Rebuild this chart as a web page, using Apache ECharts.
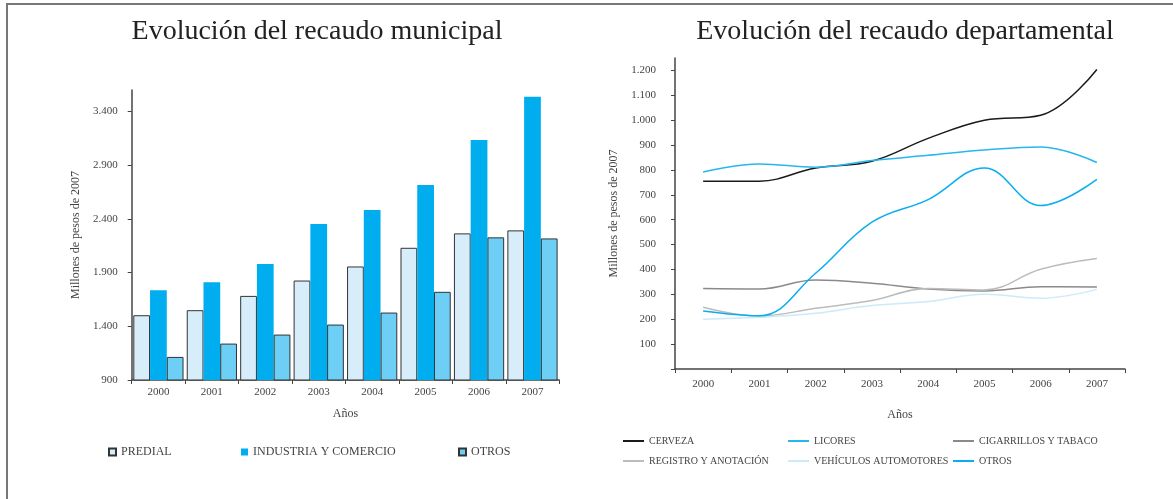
<!DOCTYPE html>
<html><head><meta charset="utf-8">
<script src="https://cdn.jsdelivr.net/npm/echarts@6/dist/echarts.min.js"></script>
<style>
html,body{margin:0;padding:0;background:#fff;}
#wrap{position:relative;width:1173px;height:499px;overflow:hidden;}
#frame{position:absolute;left:6px;top:3px;width:1167px;height:496px;border-top:2px solid #777;border-left:2px solid #777;box-sizing:border-box;}
#left{position:absolute;left:0;top:0;width:600px;height:499px;}
#right{position:absolute;left:600px;top:0;width:573px;height:499px;}
</style></head>
<body><div id="wrap"><div id="frame"></div><div id="left"></div><div id="right"></div></div>
<script>
// ---- data ----
const years = ['2000','2001','2002','2003','2004','2005','2006','2007'];
// Municipal (millones de pesos de 2007)
const predial   = [1503,1550,1683,1826,1957,2131,2265,2293];
const industria = [1736,1811,1979,2352,2482,2716,3135,3536];
const otrosMun  = [1115,1239,1323,1416,1528,1721,2228,2218];
const munTicks  = [900,1400,1900,2400,2900,3400];
// Departamental
const cerveza    = [755,755,808,835,927,1000,1020,1204];
const licores    = [792,824,811,838,859,880,892,830];
const cigarrillos= [324,322,358,345,322,314,331,330];
const registro   = [248,213,244,275,324,318,401,444];
const vehiculos  = [200,208,224,255,271,300,284,320];
const otrosDep   = [233,214,385,590,681,808,657,762];
const depTicks   = [0,100,200,300,400,500,600,700,800,900,1000,1100,1200];
const depLabels  = [100,200,300,400,500,600,700,800,900,1000,1100,1200];

const fmt = v => String(v).replace(/\B(?=(\d{3})+(?!\d))/g, '.');
const FONT = '"Liberation Serif","DejaVu Serif",serif';
const axisCol = '#444';

// ---- left chart ----
const cl = echarts.init(document.getElementById('left'));
const legBox = (name,left) => ({left,top:441,itemWidth:7,itemHeight:7,data:[name],icon:'rect',
   textStyle:{fontFamily:FONT,fontSize:12,color:'#444'}});
cl.setOption({
  animation:false,
  title:{text:'Evolución del recaudo municipal',left:312,top:13,textAlign:'center',
    textStyle:{fontFamily:FONT,fontSize:28,fontWeight:'normal',color:'#222'}},
  legend:[
    legBox('PREDIAL',103),
    legBox('INDUSTRIA Y COMERCIO',236),
    legBox('OTROS',453)
  ],
  grid:{left:131.7,top:90,width:427.5,height:290},
  xAxis:{type:'category',data:years,
    name:'Años',nameLocation:'middle',nameGap:28,
    nameTextStyle:{fontFamily:FONT,fontSize:12,color:'#444'},
    axisLine:{lineStyle:{color:axisCol,width:1.5}},
    axisTick:{show:true,length:4,lineStyle:{color:axisCol}},
    axisLabel:{fontFamily:FONT,fontSize:11,color:'#444',margin:7}},
  yAxis:{type:'value',min:900,max:3600,interval:500,
    name:'Millones de pesos de 2007',nameLocation:'middle',nameGap:49,nameRotate:90,
    nameTextStyle:{fontFamily:FONT,fontSize:12,color:'#444'},
    splitLine:{show:false},
    axisLine:{show:true,lineStyle:{color:axisCol,width:1.5}},
    axisTick:{show:true,length:4,lineStyle:{color:axisCol},customValues:munTicks},
    axisLabel:{fontFamily:FONT,fontSize:11,color:'#444',margin:14,formatter:fmt,customValues:munTicks}},
  series:[
    {name:'PREDIAL',type:'bar',data:predial,barGap:'0%',barCategoryGap:'6%',
      itemStyle:{color:'#d7eefa',borderColor:'#333',borderWidth:1}},
    {name:'INDUSTRIA Y COMERCIO',type:'bar',data:industria,
      itemStyle:{color:'#00aeef'}},
    {name:'OTROS',type:'bar',data:otrosMun,
      itemStyle:{color:'#6dcff6',borderColor:'#333',borderWidth:1}}
  ]
});

// ---- right chart ----
const cr = echarts.init(document.getElementById('right'));
const lineS = (name,data,color,w) => ({name,type:'line',data,smooth:0.4,symbol:'none',
  lineStyle:{color,width:w||1.5},itemStyle:{color}});
const legItem = (name,left,top) => ({left,top,itemWidth:21,itemHeight:10,data:[name],
  icon:'path://M0,4 L21,4 L21,6 L0,6 Z',
  textStyle:{fontFamily:FONT,fontSize:10,color:'#444'}});
cr.setOption({
  animation:false,
  title:{text:'Evolución del recaudo departamental',left:300,top:13,textAlign:'center',
    textStyle:{fontFamily:FONT,fontSize:28,fontWeight:'normal',color:'#222'}},
  legend:[
    legItem('CERVEZA',18,431),
    legItem('LICORES',183,431),
    legItem('CIGARRILLOS Y TABACO',348,431),
    legItem('REGISTRO Y ANOTACIÓN',18,451),
    legItem('VEHÍCULOS AUTOMOTORES',183,451),
    legItem('OTROS',348,451)
  ],
  grid:{left:72,top:58,width:453,height:311},
  xAxis:{type:'category',data:years,boundaryGap:true,
    name:'Años',nameLocation:'middle',nameGap:40,
    nameTextStyle:{fontFamily:FONT,fontSize:12,color:'#444'},
    axisLine:{lineStyle:{color:axisCol,width:1.5}},
    axisTick:{show:true,length:4,lineStyle:{color:axisCol}},
    axisLabel:{fontFamily:FONT,fontSize:11,color:'#444',margin:10}},
  yAxis:{type:'value',min:0,max:1250,interval:100,
    name:'Millones de pesos de 2007',nameLocation:'middle',nameGap:55,nameRotate:90,
    nameTextStyle:{fontFamily:FONT,fontSize:12,color:'#444'},
    splitLine:{show:false},
    axisLine:{show:true,lineStyle:{color:axisCol,width:1.5}},
    axisTick:{show:true,length:4,lineStyle:{color:axisCol},customValues:depTicks},
    axisLabel:{fontFamily:FONT,fontSize:11,color:'#444',margin:19,formatter:fmt,customValues:depLabels}},
  series:[
    lineS('CERVEZA',cerveza,'#1a1a1a'),
    lineS('LICORES',licores,'#25b8ef'),
    lineS('CIGARRILLOS Y TABACO',cigarrillos,'#8a8a8a'),
    lineS('REGISTRO Y ANOTACIÓN',registro,'#bcbcbc'),
    lineS('VEHÍCULOS AUTOMOTORES',vehiculos,'#cdeaf8'),
    lineS('OTROS',otrosDep,'#0aaeef')
  ]
});
</script></body></html>
